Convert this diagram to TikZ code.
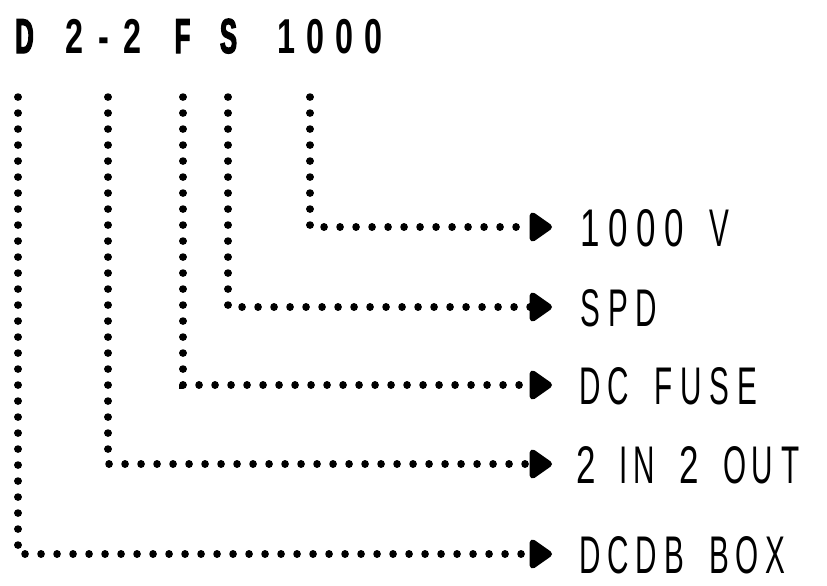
\documentclass[tikz,border=0pt]{standalone}
\usepackage{fontspec}
\usetikzlibrary{arrows.meta}
\newfontfamily\labfont[FakeStretch=0.66]{Liberation Sans}
\newfontfamily\lablet[FakeStretch=0.56]{Liberation Sans}
\newfontfamily\titfont[FakeStretch=0.66,UprightFont={Liberation Sans Bold},BoldFont={Liberation Sans Bold}]{Liberation Sans}
\newfontfamily\titlet[FakeStretch=0.52,FakeBold=2.5,UprightFont={Liberation Sans Bold},BoldFont={Liberation Sans Bold}]{Liberation Sans}
\let\letfont\relax
\newlength\chpitch
\newlength\chnarrow
\newlength\chspace
\def\spacedloop#1{\ifx#1\relax\else\ifx#1~\hspace{\chspace}\else\ifx#1I\makebox[\chnarrow]{\letfont#1}\else\ifnum`#1>64 \makebox[\chpitch]{\letfont#1}\else\makebox[\chpitch]{#1}\fi\fi\fi\expandafter\spacedloop\fi}
\newcommand\spaced[1]{\spacedloop#1\relax}
\tikzset{
  titlebase/.style={inner sep=0pt,font=\titfont\let\letfont\titlet\fontsize{49}{50}\selectfont},
  titletext/.style={titlebase,anchor=base},
  titlewide/.style={titlebase,anchor=base west},
  labeltext/.style={anchor=west,inner sep=0pt,text height=38pt,text depth=0pt,font=\labfont\let\letfont\lablet\fontsize{53}{55}\selectfont},
  dotline/.style={line width=7.5pt,line cap=round,dash pattern=on 0.1pt off 15.9pt,
    -{Triangle[length=25pt,width=33pt,round]}},
}
\begin{document}
\begin{tikzpicture}[x=1pt,y=-1pt]
\useasboundingbox (0,0) rectangle (827,586);
% title parts
\node[titletext] (tD) at (24.5,53) {\titlet D};
\node[titlewide] (t22) at (60,53) {\setlength\chpitch{29pt}\spaced{2-2}};
\node[titletext] (tF) at (182.5,53) {\titlet F};
\node[titletext] (tS) at (228.5,53) {\titlet S};
\node[titlewide] (t1000) at (272,53) {\setlength\chpitch{29pt}\spaced{1000}};
% line tops
\coordinate (sD) at (18,97);
\coordinate (s22) at (108,97);
\coordinate (sF) at (183,97);
\coordinate (sS) at (228,97);
\coordinate (s1000) at (310,97);
% labels
\setlength\chpitch{28pt}\setlength\chnarrow{13.5pt}\setlength\chspace{17pt}
\node[labeltext] (l1) at (576,227) {\spaced{1000~V}};
\node[labeltext] (l2) at (576,307) {\spaced{SPD}};
\node[labeltext] (l3) at (576,385) {\spaced{DC~FUSE}};
\node[labeltext] (l4) at (572,464) {\spaced{2~IN~2~OUT}};
\node[labeltext] (l5) at (576,554) {\spaced{DCDB~BOX}};
% connectors
\draw[dotline] (s1000) |- ([xshift=-24pt]l1.west);
\draw[dotline] (sS) |- ([xshift=-24pt]l2.west);
\draw[dotline] (sF) |- ([xshift=-24pt]l3.west);
\draw[dotline] (s22) |- ([xshift=-20pt]l4.west);
\draw[dotline] (sD) |- ([xshift=-24pt]l5.west);
\end{tikzpicture}
\end{document}
